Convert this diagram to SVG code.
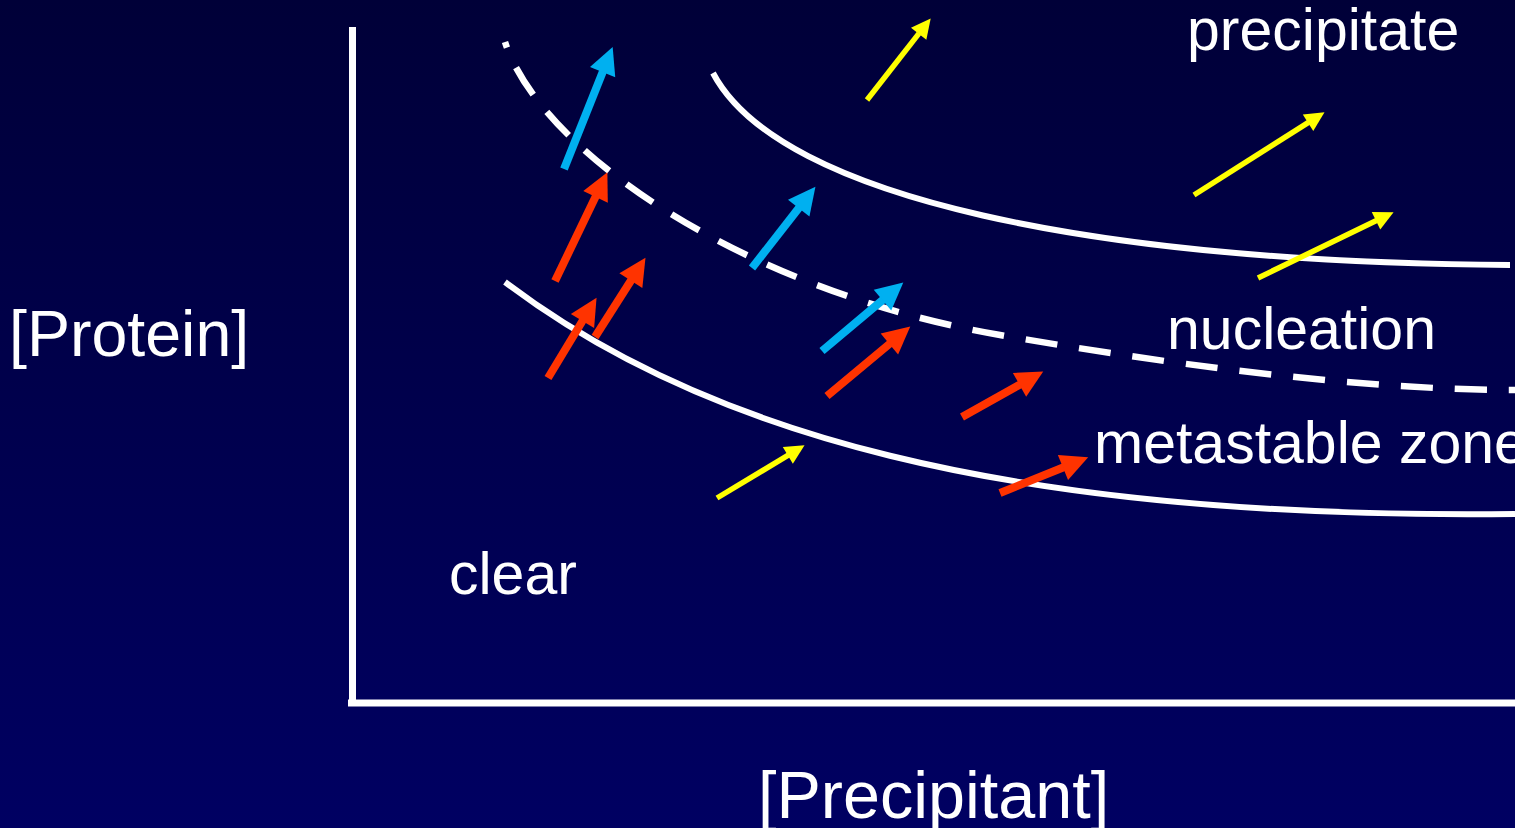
<svg xmlns="http://www.w3.org/2000/svg" width="1515" height="828" viewBox="0 0 1515 828">
<style>
.lbl{font-family:"Liberation Sans",Arial,sans-serif;fill:#fff;font-size:59px}
.crv{fill:none;stroke:#fff;stroke-width:6}
.dash{stroke-dasharray:32 22;stroke-dashoffset:26;stroke-width:6.5}
.axis{stroke:#fff;stroke-width:7;fill:none}
.blue{stroke:#00b0f0;stroke-width:8;fill:none;marker-end:url(#hb)}
.red{stroke:#ff3300;stroke-width:8;fill:none;marker-end:url(#hr)}
.yel{stroke:#ffff00;stroke-width:5.5;fill:none;marker-end:url(#hy)}
</style>
<defs>
<linearGradient id="bg" x1="0" y1="0" x2="0" y2="1">
<stop offset="0" stop-color="#000038"/>
<stop offset="1" stop-color="#000062"/>
</linearGradient>
<marker id="hb" viewBox="0 0 3.4 3.4" refX="0.1" refY="1.7" markerWidth="3.4" markerHeight="3.4" orient="auto" overflow="visible"><path d="M0,0 L3.4,1.7 L0,3.4 z" fill="#00b0f0"/></marker>
<marker id="hr" viewBox="0 0 3.4 3.4" refX="0.1" refY="1.7" markerWidth="3.4" markerHeight="3.4" orient="auto" overflow="visible"><path d="M0,0 L3.4,1.7 L0,3.4 z" fill="#ff3300"/></marker>
<marker id="hy" viewBox="0 0 3.55 3.55" refX="0.1" refY="1.775" markerWidth="3.55" markerHeight="3.55" orient="auto" overflow="visible"><path d="M0,0 L3.55,1.775 L0,3.55 z" fill="#ffff00"/></marker>
</defs>
<rect width="1515" height="828" fill="url(#bg)"/>
<g id="axes">
<line class="axis" x1="352.5" y1="27" x2="352.5" y2="703"/>
<line class="axis" x1="348" y1="703" x2="1515" y2="703"/>
</g>
<g id="curves">
<path id="upper-curve" class="crv" d="M713,73 C780,200 1100,262 1510,265"/>
<path id="lower-curve" class="crv" d="M505,282 C700,430 1000,520 1515,514"/>
<path id="dashed-curve" class="crv dash" d="M505,42 C540,150 740,290 1000,335 C1150,361 1350,390 1515,390"/>
</g>
<g id="connectors">
<line class="blue" x1="564" y1="169" x2="602.9" y2="71.4"/>
<line class="red" x1="555" y1="281" x2="595.9" y2="196.1"/>
<line class="red" x1="548" y1="378" x2="582.9" y2="320.3"/>
<line class="red" x1="595" y1="337" x2="631.3" y2="280"/>
<line class="blue" x1="752" y1="268" x2="799.2" y2="207.5"/>
<line class="blue" x1="822" y1="351" x2="883.1" y2="299.6"/>
<line class="red" x1="827" y1="396" x2="890" y2="343.5"/>
<line class="red" x1="962" y1="417" x2="1020.2" y2="384.4"/>
<line class="red" x1="1000" y1="493" x2="1063.7" y2="467.2"/>
<line class="yel" x1="867" y1="100" x2="919" y2="33.4"/>
<line class="yel" x1="1194" y1="195" x2="1308.5" y2="122.4"/>
<line class="yel" x1="1258" y1="278" x2="1376.5" y2="220.5"/>
<line class="yel" x1="717" y1="498" x2="788.3" y2="455.1"/>
</g>
<g id="label-protein"><text class="lbl" style="font-size:64.5px" x="9" y="356">[Protein]</text></g>
<g id="label-precipitant"><text class="lbl" style="font-size:66.5px" x="758" y="818">[Precipitant]</text></g>
<g id="label-precipitate"><text class="lbl" x="1187" y="50">precipitate</text></g>
<g id="label-nucleation"><text class="lbl" x="1167" y="349">nucleation</text></g>
<g id="label-metastable"><text class="lbl" x="1094" y="463">metastable zone</text></g>
<g id="label-clear"><text class="lbl" x="449" y="594">clear</text></g>
</svg>
